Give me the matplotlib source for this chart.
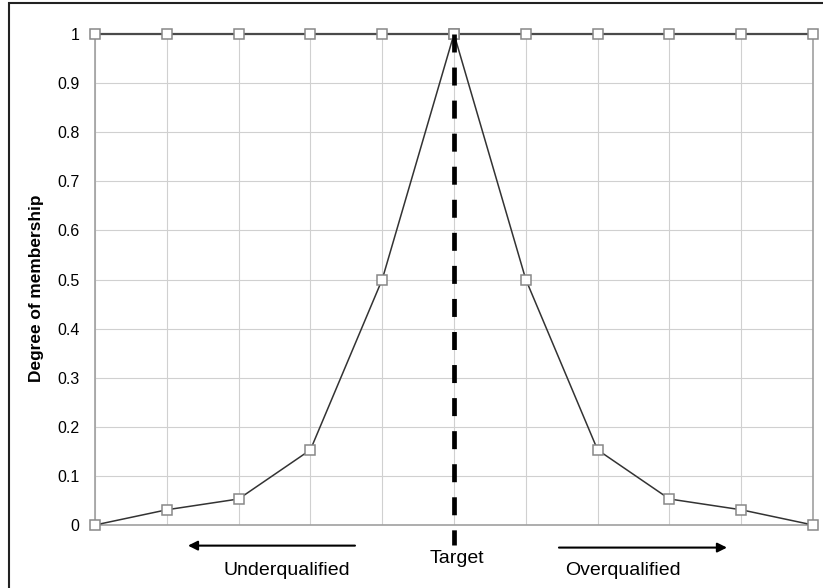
import numpy as np
import matplotlib.pyplot as plt
from matplotlib.patches import Rectangle

plt.rcParams['font.family'] = ['Liberation Sans', 'DejaVu Sans']

# data
positions = [0, 1, 2, 3, 4, 5, 6, 7, 8, 9, 10]
membership = [0.0, 0.031, 0.053, 0.153, 0.5, 1.0, 0.5, 0.153, 0.053, 0.031, 0.0]
upper = [1, 1, 1, 1, 1, 1, 1, 1, 1, 1, 1]
yticks = [0, 0.1, 0.2, 0.3, 0.4, 0.5, 0.6, 0.7, 0.8, 0.9, 1]
ytick_labels = ["0", "0.1", "0.2", "0.3", "0.4", "0.5", "0.6", "0.7", "0.8", "0.9", "1"]

fig = plt.figure(figsize=(8.23, 5.88), dpi=100)
ax = fig.add_axes([95 / 823, 63 / 588, 718 / 823, 491 / 588])

# outer frame (only left and top visible in the picture)
fig.patches.append(Rectangle((9 / 823, -0.1), 1.2, 0.1 + 1 - 3.5 / 588,
                             transform=fig.transFigure, fill=False,
                             edgecolor="#222222", lw=1.5))

ax.plot(positions, upper, color="#4a4a4a", lw=1.6, marker="s", ms=6.5,
        mfc="white", mec="#888888", mew=1.1, clip_on=False, zorder=3)
ax.plot(positions, membership, color="#333333", lw=1.1, marker="s", ms=6.5,
        mfc="white", mec="#888888", mew=1.1, clip_on=False, zorder=3)

target_x = positions[int(np.argmax(membership))]
ax.plot([target_x, target_x], [1, -0.041], color="black", lw=3.4,
        dashes=(3.81, 3.19), clip_on=False, zorder=4)

ax.set_xlim(0, 10)
ax.set_ylim(0, 1)
ax.set_xticks(positions)
ax.set_xticklabels([])
ax.set_yticks(yticks)
ax.set_yticklabels(ytick_labels, fontsize=11.5)
ax.tick_params(length=0, pad=11)
ax.grid(True, color="#d0d0d0", lw=0.8)
ax.set_axisbelow(True)

ax.spines["top"].set_visible(False)
for s in ["left", "bottom", "right"]:
    ax.spines[s].set_color("#a0a0a0")
    ax.spines[s].set_linewidth(1.2)

fig.text(37 / 823, 1 - 288 / 588, "Degree of membership", rotation=90,
         ha="center", va="center", fontsize=12.4, fontweight="bold")

# annotations below the axis
ax.annotate("", xy=(1.295, -0.042), xytext=(3.621, -0.042),
            arrowprops=dict(arrowstyle="-|>", color="black", lw=1.5,
                            mutation_scale=14, shrinkA=0, shrinkB=0),
            annotation_clip=False)
ax.annotate("", xy=(8.802, -0.046), xytext=(6.462, -0.046),
            arrowprops=dict(arrowstyle="-|>", color="black", lw=1.5,
                            mutation_scale=14, shrinkA=0, shrinkB=0),
            annotation_clip=False)
ax.text(target_x + 0.04, -0.0774, "Target", ha="center", va="baseline",
        fontsize=14, clip_on=False)
ax.text(2.667, -0.1018, "Underqualified", ha="center", va="baseline",
        fontsize=14, clip_on=False)
ax.text(7.347, -0.1018, "Overqualified", ha="center", va="baseline",
        fontsize=14, clip_on=False)

fig.savefig("out.png", dpi=100)
